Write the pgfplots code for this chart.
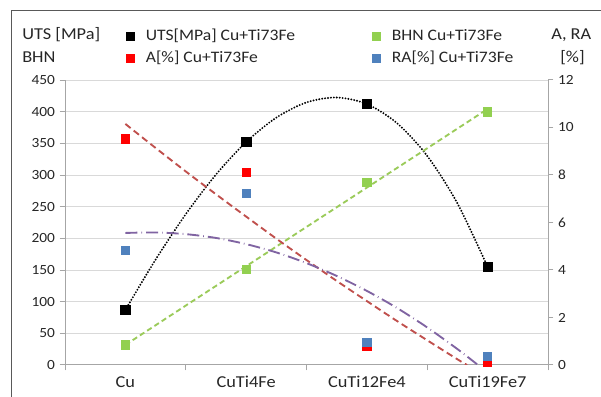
\documentclass[border=0pt]{standalone}
\usepackage{fontspec}
\setmainfont{Carlito}[FakeStretch=1.1]
\usepackage{pgfplots}
\pgfplotsset{compat=1.18}
\definecolor{gridc}{HTML}{D9D9D9}
\definecolor{axc}{HTML}{A6A6A6}
\definecolor{mgreen}{HTML}{92D050}
\definecolor{mblue}{HTML}{4F81BD}
\definecolor{mred}{HTML}{FF0000}
\definecolor{tred}{HTML}{C0504D}
\definecolor{tpurple}{HTML}{8064A2}
\definecolor{tgreen}{HTML}{9BCB5A}
\pgfplotsset{
  base/.style={
    scale only axis, width=362.25pt, height=213.75pt,
    at={(48.75pt,24pt)}, anchor=south west,
    xmin=-0.5, xmax=3.5,
    /pgf/number format/assume math mode=true,
    tick label style={font=\fontsize{10.5}{12}\selectfont, text=black!85},
    axis line style={axc, line width=0.75pt},
    tick style={axc, line width=0.75pt},
    tick align=outside, major tick length=4pt,
    legend image code/.code={\draw[mark repeat=2,mark phase=2,##1,mark size=3pt] plot coordinates {(0cm,0cm) (0.12cm,0cm) (0.45cm,0cm)};},
    legend style={draw=none, fill=none, inner sep=0pt, outer sep=0pt,
      font=\fontsize{12}{14}\selectfont, text=black!85, anchor=west,
      /tikz/every even column/.append style={column sep=0pt}},
    legend columns=2,
  },
}
\begin{document}
\begin{tikzpicture}
\useasboundingbox (0,0) rectangle (450.75pt,297.75pt);
\draw[black!65, line width=0.75pt] (8.25pt,-2pt) -- (8.25pt,290pt) -- (455pt,290pt);

\begin{axis}[base,
  axis y line*=left, axis x line*=bottom,
  ymin=0, ymax=450, ytick={0,50,...,450},
  ymajorgrids, grid style={gridc, line width=0.75pt},
  xtick={-0.5,0.5,1.5,2.5,3.5}, xticklabels={},
  extra x ticks={0,1,2,3},
  extra x tick labels={Cu,CuTi4Fe,CuTi12Fe4,CuTi19Fe7},
  extra x tick style={major tick length=0pt, xticklabel style={font=\fontsize{12.5}{14}\selectfont, yshift=-5pt}},
  legend style={at={(0.126,1.154)}},
]
\addplot[only marks, mark=square*, mark size=3.5pt, color=black] coordinates {(0,87) (1,352) (2,412) (3,155)};
\addlegendentry{\hspace*{7pt}\makebox[167.5pt][l]{UTS[MPa] Cu+Ti73Fe}}
\addplot[only marks, mark=square*, mark size=3.1pt, color=mgreen] coordinates {(0,32) (1,151) (2,289) (3,400)};
\addlegendentry{\hspace*{7pt}BHN Cu+Ti73Fe}
\addplot[forget plot, black, line width=1.6pt, line cap=round, dash pattern=on 0pt off 2.2pt, smooth] coordinates {
(0,87) (0.25,166.3) (0.5,238.1) (0.75,300.6) (1,352) (1.25,390.6) (1.5,414.6) (1.75,422.4) (2,412) (2.25,381.8) (2.5,330.1) (2.75,255.1) (3,155)};
\addplot[forget plot, tgreen, line width=1.4pt, dash pattern=on 4pt off 2.5pt] coordinates {(0,31.7) (3,404.3)};
\end{axis}

\begin{axis}[base,
  axis y line*=right, axis x line=none,
  ymin=0, ymax=12, ytick={0,2,...,12},
  legend style={at={(0.126,1.077)}},
]
\addplot[only marks, mark=square*, mark size=3.1pt, color=mred] coordinates {(0,9.52) (1,8.13) (2,0.8) (3,0.1)};
\addlegendentry{\hspace*{7pt}\makebox[167.5pt][l]{A[\%] Cu+Ti73Fe}}
\addplot[only marks, mark=square*, mark size=3.1pt, color=mblue] coordinates {(0,4.84) (1,7.24) (2,0.97) (3,0.38)};
\addlegendentry{\hspace*{7pt}RA[\%] Cu+Ti73Fe}
\addplot[forget plot, tred, line width=1.4pt, dash pattern=on 5pt off 3pt, smooth] coordinates {
(0,10.15) (0.25,9.14) (0.5,8.15) (0.75,7.19) (1,6.25) (1.25,5.32) (1.5,4.42) (1.75,3.54) (2,2.69) (2.25,1.85) (2.5,1.04) (2.75,0.24) (2.83,0)};
\addplot[forget plot, tpurple, line width=1.4pt, dash pattern=on 9pt off 3pt on 0.5pt off 3pt, smooth] coordinates {
(0,5.56) (0.25,5.58) (0.5,5.51) (0.75,5.35) (1,5.09) (1.25,4.74) (1.5,4.29) (1.75,3.75) (2,3.12) (2.25,2.40) (2.5,1.58) (2.75,0.67) (2.92,0)};
\end{axis}

\node[anchor=base west, inner sep=0pt, font=\fontsize{12.5}{14}\selectfont, text=black!85] at (16.5pt,267.75pt) {UTS [MPa]};
\node[anchor=base west, inner sep=0pt, font=\fontsize{12.5}{14}\selectfont, text=black!85] at (16.5pt,250.5pt) {BHN};
\node[anchor=base west, inner sep=0pt, font=\fontsize{12.5}{14}\selectfont, text=black!85] at (413.25pt,267.75pt) {A, RA};
\node[anchor=base west, inner sep=0pt, font=\fontsize{12.5}{14}\selectfont, text=black!85] at (420pt,250.5pt) {[\%]};
\end{tikzpicture}
\end{document}
